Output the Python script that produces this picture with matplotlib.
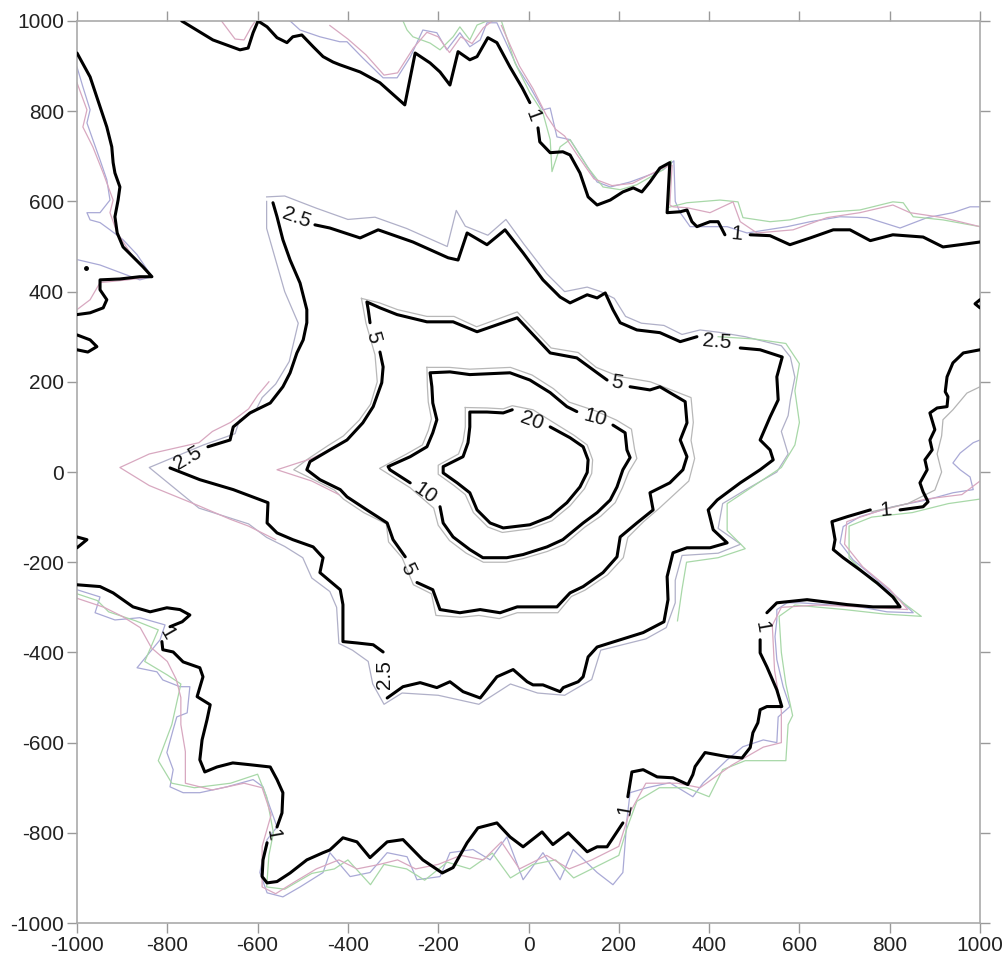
import numpy as np
import matplotlib
matplotlib.use("Agg")
import matplotlib.pyplot as plt

plt.rcParams["font.family"] = ["Liberation Sans", "DejaVu Sans"]
plt.rcParams["axes.unicode_minus"] = False

# ---- black contour lines (x, y) ----
c1_top = [(-768, 1000), (-699, 958), (-639, 936), (-621, 940), (-610, 974), (-599, 1000),
          (-579, 987), (-557, 963), (-535, 952), (-522, 965), (-502, 969), (-477, 943),
          (-455, 921), (-433, 909), (-418, 903), (-373, 887), (-329, 863), (-274, 814),
          (-251, 929), (-218, 907), (-196, 887), (-174, 858), (-156, 932), (-130, 914),
          (-114, 921), (-90, 963), (-70, 952), (-41, 898), (-14, 852), (3, 819)]
c1_top_b = [(21, 763), (25, 732), (48, 708), (76, 710), (92, 703), (114, 663), (132, 610),
            (152, 592), (181, 603), (209, 621), (232, 630), (251, 621), (269, 643),
            (291, 674), (313, 686), (307, 575), (336, 577), (351, 581), (362, 555),
            (373, 544), (402, 555), (420, 555), (435, 526)]
c1_top_c = [(491, 526), (535, 524), (579, 504), (624, 519), (675, 537), (712, 537),
            (757, 513), (807, 526), (874, 521), (918, 499), (956, 504), (1000, 510)]
c1_left = [(-1000, 929), (-971, 876), (-954, 825), (-934, 765), (-923, 721), (-920, 686),
           (-916, 663), (-905, 632), (-909, 603), (-916, 566), (-911, 530), (-898, 499),
           (-876, 477), (-854, 455), (-834, 433), (-861, 433), (-905, 428), (-949, 426),
           (-949, 404), (-934, 382), (-942, 364), (-971, 353), (-1000, 349)]
c1_loop = [(-1000, 304), (-971, 293), (-956, 278), (-976, 266), (-1000, 271)]
c1_bit = [(-1000, -144), (-978, -150), (-1000, -168)]
c1_bit_r = [(1000, 382), (989, 373), (1000, 364)]
c1_low_a = [(-1000, -250), (-949, -254), (-920, -268), (-876, -299), (-838, -310),
            (-801, -301), (-772, -305), (-750, -317), (-767, -332), (-794, -343)]
c1_low_b = [(-812, -376), (-810, -394), (-787, -399), (-765, -421), (-728, -434),
            (-721, -454), (-734, -498), (-705, -516), (-712, -549), (-723, -594),
            (-728, -638), (-717, -665), (-690, -654), (-655, -645), (-617, -649),
            (-572, -654), (-557, -682), (-544, -711), (-546, -756), (-557, -787)]
c1_low_c = [(-579, -822), (-588, -860), (-590, -897), (-579, -911), (-557, -908),
            (-528, -889), (-491, -860), (-455, -844), (-440, -838), (-411, -811),
            (-380, -820), (-351, -855), (-313, -820), (-278, -815), (-234, -860),
            (-191, -889), (-167, -877), (-136, -822), (-112, -789), (-70, -778),
            (-41, -809), (-12, -831), (30, -798), (54, -826), (88, -800), (130, -842),
            (152, -831), (174, -831), (209, -778)]
c1_low_d = [(220, -720), (229, -665), (254, -660), (285, -676), (320, -678), (353, -693),
            (364, -671), (369, -653), (391, -622), (418, -627), (440, -631), (473, -634),
            (491, -611), (497, -578), (508, -556), (513, -527), (528, -520), (561, -520),
            (550, -483), (528, -432), (513, -401), (513, -372)]
c1_low_e = [(528, -312), (550, -290), (617, -283), (706, -294), (763, -299), (823, -299),
            (807, -277), (772, -246), (734, -217), (697, -190), (675, -172), (679, -150),
            (672, -110), (706, -99), (757, -84)]
c1_low_f = [(823, -84), (874, -77), (885, -66), (874, -44), (867, -24), (883, 5),
            (878, 27), (894, 49), (889, 71), (900, 94), (889, 131), (905, 142),
            (927, 145), (929, 167), (923, 178), (927, 211), (940, 242), (963, 264),
            (1000, 271)]

c25_a = [(-473, 548), (-440, 541), (-373, 519), (-333, 537), (-256, 510), (-178, 475),
         (-156, 470), (-136, 530), (-92, 504), (-52, 537), (-12, 486), (32, 426),
         (70, 388), (92, 375), (130, 393), (152, 386), (170, 397), (187, 360),
         (203, 331), (240, 315), (291, 309), (336, 289), (373, 300)]
c25_b = [(469, 275), (513, 271), (562, 255), (550, 211), (553, 160), (535, 122),
         (513, 71), (535, 49), (542, 27), (513, 5), (469, -24), (418, -62), (398, -84),
         (409, -128), (440, -157), (402, -168), (351, -168), (320, -179), (307, -232),
         (309, -283), (300, -332), (254, -356), (203, -372), (152, -388), (132, -410),
         (121, -454), (110, -465), (77, -478), (70, -487), (32, -472), (10, -472),
         (-3, -465), (-34, -438), (-70, -454), (-107, -501), (-145, -487), (-174, -465),
         (-203, -478), (-240, -467), (-278, -476), (-313, -501)]
c25_c = [(-322, -399), (-344, -383), (-380, -379), (-411, -376), (-411, -328),
         (-411, -294), (-417, -261), (-462, -223), (-455, -190), (-477, -166),
         (-522, -150), (-557, -135), (-579, -113), (-577, -68), (-654, -39),
         (-728, -17), (-794, 9)]
c25_d = [(-710, 56), (-661, 71), (-654, 100), (-617, 131), (-572, 153), (-544, 189),
         (-528, 220), (-513, 264), (-499, 293), (-491, 331), (-491, 360), (-506, 419),
         (-528, 470), (-544, 515), (-557, 566), (-566, 597)]

c5_a = [(-329, 266), (-322, 233), (-325, 198), (-344, 145), (-367, 109), (-402, 71),
        (-440, 49), (-484, 23), (-491, 5), (-462, -17), (-417, -39), (-402, -55),
        (-358, -84), (-313, -113), (-300, -150), (-273, -188)]
c5_b = [(-247, -245), (-212, -261), (-196, -305), (-152, -312), (-107, -305),
        (-63, -312), (-25, -299), (63, -299), (92, -268), (121, -254), (165, -223),
        (196, -188), (203, -144), (240, -113), (276, -84), (269, -46), (313, -24),
        (342, 5), (351, 34), (336, 71), (351, 109), (347, 156), (291, 189),
        (269, 182), (225, 189)]
c5_c = [(174, 204), (152, 220), (107, 253), (48, 264), (-25, 342), (-114, 311),
        (-167, 333), (-225, 333), (-291, 349), (-329, 364), (-358, 377), (-355, 360),
        (-351, 331)]

c10_a = [(187, 104), (214, 87), (218, 49), (225, 32), (209, 5), (196, -33), (181, -62),
         (152, -90), (121, -113), (76, -150), (41, -166), (-12, -183), (-48, -190),
         (-101, -190), (-130, -172), (-167, -144), (-189, -113), (-196, -77)]
c10_b = [(-262, -24), (-307, 5), (-311, 12), (-262, 34), (-225, 56), (-212, 87),
         (-203, 116), (-212, 153), (-214, 189), (-218, 220), (-174, 222), (-130, 216),
         (-41, 220), (3, 204), (48, 176), (85, 145), (107, 134)]

c20 = [(48, 100), (92, 76), (121, 56), (132, 27), (130, -1), (114, -33), (85, -68),
       (48, -99), (3, -117), (-56, -124), (-85, -113), (-114, -84), (-130, -46),
       (-158, -24), (-189, -2), (-189, 12), (-145, 34), (-134, 65), (-130, 100),
       (-130, 133), (-92, 133), (-56, 131), (-36, 138)]

# ---- thin coloured companion lines ----
blue_top = [(-528, 1000), (-506, 980), (-462, 965), (-418, 954), (-402, 954), (-367, 918),
            (-322, 874), (-291, 874), (-262, 920), (-234, 980), (-203, 974), (-181, 936),
            (-152, 974), (-130, 943), (-107, 958), (-92, 996), (-70, 996), (-25, 898),
            (3, 854), (32, 803), (48, 807), (63, 743), (92, 737), (121, 692), (152, 643),
            (181, 632), (225, 643), (298, 670), (322, 690), (325, 600), (336, 575),
            (358, 544), (440, 544), (484, 530), (573, 544), (624, 555), (690, 566),
            (750, 564), (823, 541), (883, 564), (940, 575), (978, 588), (1000, 588)]
green_top1 = [(-278, 1000), (-269, 980), (-256, 965), (-218, 951), (-196, 936), (-167, 965),
              (-152, 987), (-130, 958), (-114, 991), (-92, 1000)]
green_top2 = [(-60, 1000), (-30, 907), (3, 841), (32, 796), (48, 737), (52, 666), (70, 721),
              (92, 737), (130, 677), (165, 632), (203, 626), (240, 637), (298, 670),
              (316, 690), (312, 600), (307, 586), (351, 597), (424, 603), (464, 599),
              (475, 564), (535, 555), (579, 559), (624, 570), (675, 577), (734, 581),
              (807, 599), (830, 597), (852, 566), (918, 559), (1000, 544)]
pink_top1 = [(-440, 990), (-400, 960), (-360, 925), (-320, 880), (-290, 885), (-255, 940),
             (-225, 975), (-200, 965), (-175, 930), (-150, 965), (-125, 950), (-100, 985),
             (-80, 1000)]
pink_top2 = [(-60, 990), (-20, 900), (10, 850), (40, 790), (60, 760), (80, 745), (110, 700),
             (145, 650), (185, 635), (230, 640), (300, 675), (318, 680), (313, 592),
             (320, 588), (351, 586), (402, 575), (453, 599), (469, 555), (506, 530),
             (586, 537), (661, 564), (734, 575), (807, 592), (845, 575), (918, 564),
             (1000, 544)]
pink_topleft = [(-680, 1000), (-650, 960), (-630, 958), (-615, 985), (-605, 1000)]
blue_left = [(-1000, 898), (-987, 854), (-971, 803), (-978, 774), (-965, 737), (-949, 692),
             (-934, 648), (-927, 603), (-949, 575), (-978, 575), (-971, 559), (-949, 553),
             (-927, 537), (-898, 515), (-867, 482), (-834, 433), (-861, 426), (-949, 459),
             (-1000, 471)]
pink_left = [(-1000, 863), (-978, 803), (-987, 765), (-965, 721), (-942, 663), (-920, 603),
             (-927, 575), (-911, 530), (-876, 477), (-834, 433), (-889, 426), (-949, 420),
             (-971, 382), (-1000, 360)]
blue_low = [(-1000, -261), (-949, -277), (-960, -312), (-916, -328), (-861, -323),
            (-805, -339), (-816, -372), (-867, -434), (-823, -443), (-810, -461),
            (-772, -476), (-750, -476), (-756, -534), (-779, -543), (-787, -571),
            (-801, -622), (-787, -660), (-794, -698), (-765, -711), (-728, -711),
            (-668, -698), (-610, -682), (-588, -698), (-573, -742), (-557, -787),
            (-579, -815), (-588, -853), (-595, -888), (-579, -933), (-544, -942),
            (-506, -920), (-455, -888), (-440, -844), (-395, -897), (-351, -888),
            (-313, -844), (-269, -853), (-247, -904), (-196, -897), (-174, -844),
            (-123, -837), (-85, -860), (-48, -809), (-12, -904), (32, -844), (70, -904),
            (99, -837), (152, -888), (187, -915), (209, -888), (218, -771), (225, -711),
            (262, -700), (313, -689), (364, -720), (387, -689), (440, -638), (475, -609),
            (520, -594), (550, -600), (553, -543), (579, -520), (564, -476), (550, -416),
            (546, -365), (550, -328), (550, -305), (573, -290), (601, -290), (734, -299),
            (794, -310), (852, -312), (823, -283), (772, -239), (719, -195), (690, -157),
            (697, -121), (734, -99), (807, -77), (882, -62), (940, -46), (985, -39),
            (978, -11), (956, 5), (940, 20), (956, 42), (985, 65), (1000, 71)]
green_low = [(-1000, -270), (-955, -285), (-930, -310), (-870, -330), (-820, -350),
             (-850, -420), (-800, -450), (-770, -470), (-790, -560), (-820, -640),
             (-790, -690), (-740, -700), (-660, -690), (-600, -670), (-580, -720),
             (-565, -800), (-575, -850), (-580, -920), (-540, -925), (-480, -890),
             (-430, -880), (-400, -860), (-350, -915), (-320, -870), (-270, -880),
             (-230, -905), (-180, -865), (-130, -880), (-80, -845), (-40, -900),
             (10, -870), (60, -860), (100, -900), (160, -870), (200, -850), (218, -790),
             (240, -730), (290, -700), (350, -700), (400, -720), (430, -660), (480, -640),
             (570, -640), (575, -560), (585, -540), (570, -470), (560, -400), (555, -320),
             (590, -295), (700, -305), (790, -315), (870, -320), (830, -290), (760, -240),
             (710, -190), (710, -120), (760, -100), (850, -90), (930, -70), (1000, -60)]
pink_low = [(-1000, -280), (-940, -300), (-900, -320), (-860, -345), (-835, -390),
            (-800, -420), (-780, -460), (-770, -500), (-770, -560), (-760, -620),
            (-760, -690), (-700, -705), (-630, -690), (-590, -700), (-570, -760),
            (-590, -830), (-590, -920), (-560, -935), (-520, -910), (-470, -880),
            (-420, -860), (-380, -880), (-330, -870), (-290, -860), (-250, -880),
            (-200, -870), (-150, -850), (-100, -860), (-60, -820), (-20, -880),
            (40, -850), (90, -880), (140, -860), (200, -830), (222, -760), (260, -690),
            (330, -690), (380, -700), (450, -650), (520, -610), (560, -600), (560, -530),
            (545, -440), (540, -340), (560, -300), (640, -295), (760, -300), (840, -305),
            (800, -260), (740, -210), (700, -160), (705, -110), (780, -85), (880, -60),
            (960, -50), (1000, -20)]
grey_right = [(760, -88), (840, -70), (900, -40), (915, 0), (905, 40), (915, 80),
              (918, 116), (940, 138), (971, 175), (1000, 189)]

blue_25 = [(-580, 610), (-540, 612), (-470, 585), (-400, 560), (-340, 565), (-270, 540),
           (-180, 500), (-160, 580), (-140, 545), (-90, 525), (-50, 560), (-10, 505),
           (40, 440), (80, 400), (130, 410), (160, 400), (190, 385), (215, 345),
           (250, 330), (300, 325), (340, 305), (380, 315), (420, 310), (480, 300),
           (560, 280), (580, 255), (590, 210), (580, 160), (575, 125), (560, 90),
           (575, 40), (550, 0), (480, -40), (430, -70), (420, -125), (470, -160),
           (420, -180), (340, -185), (325, -240), (325, -290), (305, -345), (260, -370),
           (160, -395), (140, -460), (80, -495), (20, -490), (-40, -470), (-110, -515),
           (-200, -495), (-280, -490), (-320, -515), (-345, -470), (-355, -420),
           (-390, -395), (-420, -380), (-425, -300), (-440, -265), (-480, -235),
           (-500, -190), (-540, -165), (-580, -145), (-620, -115), (-730, -80),
           (-840, 10), (-720, 60), (-650, 85), (-640, 115), (-605, 135), (-590, 165),
           (-560, 195), (-530, 245), (-510, 330), (-540, 400), (-560, 470), (-580, 540),
           (-580, 600)]
pink_25 = [(-560, -150), (-620, -120), (-660, -105), (-730, -75), (-840, -30), (-905, 10),
           (-840, 40), (-730, 65), (-700, 90), (-660, 110), (-620, 140), (-600, 170),
           (-575, 200)]
green_25 = [(420, 300), (500, 295), (570, 285), (600, 240), (590, 180), (600, 110),
            (590, 60), (560, 10), (500, -30), (440, -70), (440, -130), (480, -170),
            (420, -190), (350, -200), (340, -260), (330, -330)]
grey_5 = [(-370, 385), (-330, 375), (-290, 360), (-225, 345), (-165, 345), (-115, 322),
          (-25, 355), (50, 275), (110, 265), (150, 232), (200, 212), (270, 200),
          (360, 165), (365, 110), (360, 70), (368, 30), (355, -20), (290, -80),
          (255, -110), (220, -145), (210, -190), (175, -228), (125, -262), (95, -276),
          (65, -312), (-25, -312), (-65, -325), (-110, -318), (-150, -322), (-205, -318),
          (-215, -270), (-255, -250), (-280, -190), (-310, -155), (-315, -115),
          (-365, -90), (-410, -60), (-430, -40), (-480, -15), (-520, 5), (-490, 28),
          (-445, 58), (-410, 80), (-375, 115), (-350, 150), (-335, 200), (-340, 260),
          (-360, 330), (-370, 385)]
pink_5 = [(-420, -50), (-480, -20), (-557, 5), (-480, 30), (-420, 60)]
grey_10 = [(-225, 232), (-175, 232), (-130, 228), (-40, 232), (8, 215), (55, 185),
           (90, 155), (150, 135), (195, 115), (228, 95), (235, 50), (240, 30), (222, 0),
           (208, -35), (192, -68), (160, -98), (125, -122), (80, -160), (42, -176),
           (-12, -192), (-50, -200), (-100, -200), (-138, -180), (-175, -152),
           (-200, -118), (-210, -80), (-262, -35), (-330, 8), (-270, 40), (-235, 60),
           (-222, 92), (-215, 118), (-222, 155), (-224, 190), (-225, 232)]
grey_20 = [(-140, 143), (-92, 142), (-56, 140), (-36, 147), (10, 138), (55, 110),
           (100, 82), (130, 60), (142, 27), (140, -3), (124, -37), (92, -75), (52, -108),
           (3, -126), (-58, -134), (-90, -122), (-122, -90), (-140, -50), (-165, -30),
           (-200, -5), (-200, 15), (-155, 40), (-145, 68), (-140, 100), (-140, 143)]

# contour labels: text, x, y, rotation
labels = [("1", 10, 790, -70), ("1", 462, 528, -5), ("1", -800, -358, -60),
          ("1", -566, -804, -80), ("1", 214, -748, 80), ("1", 517, -343, -80),
          ("1", 790, -84, 5),
          ("2.5", -515, 564, -20), ("2.5", 418, 289, -5), ("2.5", -754, 32, 30),
          ("2.5", -318, -449, 90),
          ("5", -345, 298, -75), ("5", 196, 198, -10), ("5", -267, -214, -65),
          ("10", 147, 121, -15), ("10", -229, -48, -35), ("20", 8, 114, -20)]

black_lines = [c1_top, c1_top_b, c1_top_c, c1_left, c1_loop, c1_bit, c1_bit_r, c1_low_a,
               c1_low_b, c1_low_c, c1_low_d, c1_low_e, c1_low_f,
               c25_a, c25_b, c25_c, c25_d, c5_a, c5_b, c5_c, c10_a, c10_b, c20]
thin_lines = [(blue_top, "#a9a9d6"), (green_top1, "#a8d8a8"), (green_top2, "#a8d8a8"),
              (pink_top1, "#d8a8c0"), (pink_top2, "#d8a8c0"), (pink_topleft, "#d8a8c0"),
              (blue_left, "#a9a9d6"), (pink_left, "#d8a8c0"), (blue_low, "#a9a9d6"),
              (green_low, "#a8d8a8"), (pink_low, "#d8a8c0"), (grey_right, "#b4b4b4"),
              (blue_25, "#b0b0c8"), (pink_25, "#d8a8c0"), (green_25, "#a8d8a8"),
              (grey_5, "#b8b8b8"), (pink_5, "#d8a8c0"), (grey_10, "#b8b8b8"),
              (grey_20, "#b8b8b8")]

fig = plt.figure(figsize=(10.04, 9.63), dpi=100)
ax = fig.add_axes([0.0767, 0.0415, 0.8994, 0.9367])

for pts, col in thin_lines:
    xy = np.array(pts)
    ax.plot(xy[:, 0], xy[:, 1], color=col, lw=0.9, zorder=2)

for pts in black_lines:
    xy = np.array(pts)
    ax.plot(xy[:, 0], xy[:, 1], color="black", lw=2.2, zorder=3,
            solid_joinstyle="round", solid_capstyle="round")

for txt, x, y, rot in labels:
    ax.text(x, y, txt, fontsize=15, rotation=rot, ha="center", va="center",
            rotation_mode="anchor", zorder=4, color="#111111")

ax.plot([-980], [453], "o", color="black", ms=2.5)

ax.set_xlim(-1000, 1000)
ax.set_ylim(-1000, 1000)
ticks = np.arange(-1000, 1001, 200)
ax.set_xticks(ticks)
ax.set_yticks(ticks)
ax.tick_params(direction="out", length=7.5, width=1, color="#999999",
               labelsize=15, labelcolor="#222222", top=True, right=True, pad=2)
for s in ax.spines.values():
    s.set_color("#aaaaaa")
    s.set_linewidth(1.2)

fig.savefig("out.png", dpi=100)
